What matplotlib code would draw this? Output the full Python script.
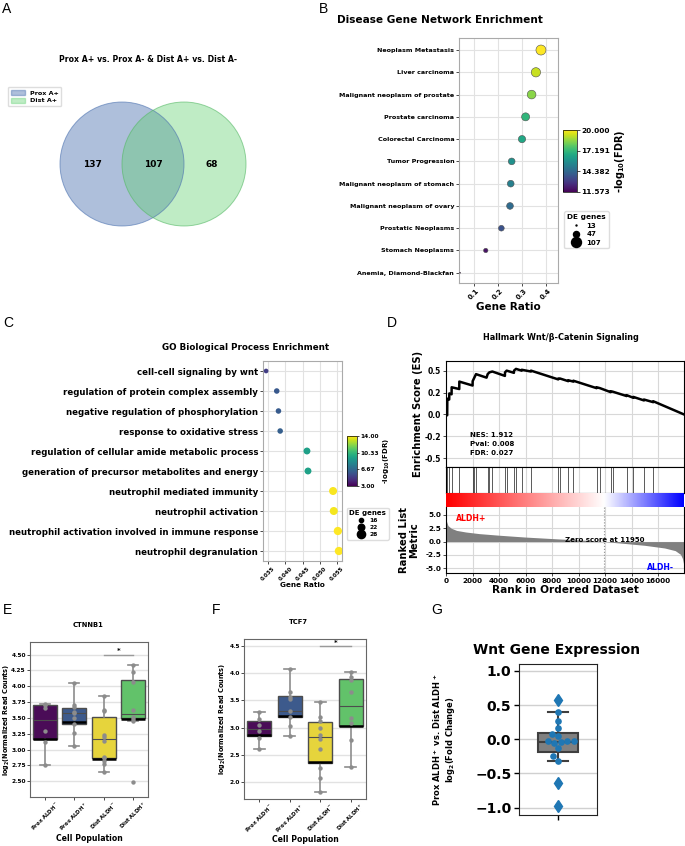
import numpy as np
import matplotlib
matplotlib.use('Agg')
import matplotlib.pyplot as plt
from matplotlib.patches import Circle, Patch
from matplotlib.lines import Line2D
from matplotlib.colors import TwoSlopeNorm
from matplotlib.ticker import FuncFormatter

plt.rcParams['font.family'] = ['DejaVu Sans']
plt.rcParams['font.weight'] = 'bold'
plt.rcParams['axes.labelweight'] = 'bold'
plt.rcParams['axes.titleweight'] = 'bold'
plt.rcParams['mathtext.default'] = 'bf'

# ---------------- data ----------------
venn_labels = ['Prox A+', 'Dist A+']
venn_counts = [137, 107, 68]  # only left, both, only right

disease_terms = ['Neoplasm Metastasis', 'Liver carcinoma', 'Malignant neoplasm of prostate',
                 'Prostate carcinoma', 'Colorectal Carcinoma', 'Tumor Progression',
                 'Malignant neoplasm of stomach', 'Malignant neoplasm of ovary',
                 'Prostatic Neoplasms', 'Stomach Neoplasms', 'Anemia, Diamond-Blackfan']
disease_ratio = [0.379, 0.358, 0.340, 0.315, 0.300, 0.257, 0.253, 0.250, 0.214, 0.149, 0.042]
disease_fdr = [20.0, 19.3, 18.5, 17.1, 16.6, 15.8, 15.2, 14.5, 13.7, 12.0, 11.573]
disease_genes = [107, 94, 84, 73, 62, 55, 55, 55, 43, 30, 13]
disease_size_legend = [13, 47, 107]
disease_cb_ticks = [11.573, 14.382, 17.191, 20.000]

go_terms = ['cell-cell signaling by wnt', 'regulation of protein complex assembly',
            'negative regulation of phosphorylation', 'response to oxidative stress',
            'regulation of cellular amide metabolic process',
            'generation of precursor metabolites and energy', 'neutrophil mediated immunity',
            'neutrophil activation', 'neutrophil activation involved in immune response',
            'neutrophil degranulation']
go_ratio = [0.0344, 0.0375, 0.0380, 0.0385, 0.0463, 0.0466, 0.0539, 0.0541, 0.0553, 0.0556]
go_fdr = [5.0, 6.0, 6.1, 6.3, 9.2, 9.3, 13.9, 13.8, 14.0, 14.0]
go_genes = [17, 19, 19, 19, 23, 23, 27, 27, 28, 28]
go_size_legend = [16, 22, 28]
go_cb_ticks = [3.00, 6.67, 10.33, 14.00]

gsea_n = 17962
gsea_zero = 11950
es_rank = [0, 90, 100, 240, 252, 420, 428, 1000, 1006, 2005, 2013, 2138, 2264, 3060, 3145, 3270,
           3497, 4445, 4453, 4579, 5125, 5132, 5283, 5705, 5711, 6410, 6415, 8470, 8478, 8604,
           9225, 9233, 9605, 9610, 11365, 11371, 11623, 12420, 12428, 12579, 13630, 13636,
           14135, 14139, 14940, 14944, 15640, 15648, 17962]
es_val = [0.0, -0.01, 0.18, 0.17, 0.24, 0.23, 0.31, 0.29, 0.375, 0.33, 0.38, 0.42, 0.46, 0.42,
          0.46, 0.48, 0.49, 0.44, 0.48, 0.50, 0.475, 0.50, 0.52, 0.50, 0.51, 0.49, 0.50, 0.40,
          0.41, 0.41, 0.38, 0.39, 0.375, 0.385, 0.30, 0.31, 0.30, 0.255, 0.265, 0.26, 0.21,
          0.22, 0.19, 0.20, 0.16, 0.17, 0.14, 0.15, 0.0]
hit_ranks = [100, 252, 428, 1006, 2013, 2138, 2264, 3145, 3270, 3497, 4453, 4579, 5132, 5283,
             5711, 6415, 8478, 8604, 9233, 9610, 11371, 11623, 12428, 12579, 13636, 14139,
             14944, 15648]
rk_rank = [0, 40, 150, 400, 800, 1500, 2500, 4000, 6000, 8500, 10500, 11950, 13500, 15000,
           16500, 17300, 17700, 17850, 17930, 17962]
rk_metric = [4.6, 3.8, 3.0, 2.5, 2.1, 1.8, 1.5, 1.2, 0.85, 0.5, 0.25, 0.0, -0.35, -0.7, -1.2,
             -1.7, -2.4, -3.2, -4.2, -5.0]
nes_text = 'NES: 1.912\nPval: 0.008\nFDR: 0.027'

groups = ['Prox ALDH$^-$', 'Prox ALDH$^+$', 'Dist ALDH$^-$', 'Dist ALDH$^+$']
group_colors = ['#4a0c57', '#3d5a8c', '#e6d43c', '#62c26a']

ctnnb1_q1 = [3.17, 3.41, 2.86, 3.50]
ctnnb1_med = [3.47, 3.58, 3.17, 3.56]
ctnnb1_q3 = [3.70, 3.66, 3.51, 4.10]
ctnnb1_lo = [2.75, 3.05, 2.65, 3.45]
ctnnb1_hi = [3.72, 4.05, 3.85, 4.34]
ctnnb1_mark = [3.17, 3.43, 2.85, 3.49]
ctnnb1_points = [[3.72, 3.71, 3.65, 3.30, 3.12, 2.75],
                 [4.05, 3.71, 3.67, 3.60, 3.57, 3.50, 3.41, 3.26, 3.05],
                 [3.85, 3.63, 3.61, 3.23, 3.20, 3.13, 2.89, 2.87, 2.82, 2.77, 2.65],
                 [4.34, 4.23, 4.06, 3.62, 3.51, 3.48, 3.45, 2.48]]

tcf7_q1 = [2.85, 3.19, 2.35, 3.02]
tcf7_med = [2.98, 3.30, 2.82, 3.40]
tcf7_q3 = [3.13, 3.59, 3.10, 3.89]
tcf7_lo = [2.60, 2.85, 1.81, 2.27]
tcf7_hi = [3.28, 4.08, 3.47, 4.02]
tcf7_mark = [2.86, 3.21, 2.36, 3.02]
tcf7_points = [[3.28, 3.15, 3.05, 2.93, 2.80, 2.60],
               [4.08, 3.66, 3.56, 3.52, 3.31, 3.20, 3.03, 2.85],
               [3.47, 3.20, 3.13, 2.99, 2.87, 2.79, 2.61, 2.25, 2.06, 1.81],
               [4.02, 3.93, 3.88, 3.65, 3.17, 3.08, 2.77, 2.27]]

wnt_fc = [0.57, 0.40, 0.27, 0.17, 0.07, 0.05, -0.03, -0.03, -0.05, -0.04, -0.03, -0.13,
          -0.25, -0.32, -0.64, -0.97]
wnt_q1, wnt_med, wnt_q3 = -0.18, -0.044, 0.097
wnt_lo, wnt_hi = -0.315, 0.40
wnt_fliers = [0.57, -0.64, -0.97]

# ---------------- figure ----------------
W, H = 685, 846
fig = plt.figure(figsize=(W / 100, H / 100), dpi=100)


def rect(l, t, r, b):
    return [l / W, 1 - b / H, (r - l) / W, (b - t) / H]


def panel_letter(x, y, s):
    fig.text(x / W, 1 - y / H, s, fontsize=10, fontweight='normal',
             family='Liberation Sans', ha='left', va='center')


for (x, y, s) in [(2, 9, 'A'), (319, 9, 'B'), (3, 323, 'C'), (387, 323, 'D'),
                  (3, 610, 'E'), (212, 610, 'F'), (431, 610, 'G')]:
    panel_letter(x, y, s)

GRID = '#e2e2e2'

# ---------------- A: Venn ----------------
axA = fig.add_axes(rect(30, 90, 276, 238))
axA.set_xlim(-1.984, 1.984)
axA.set_ylim(-1.194, 1.194)
axA.axis('off')
cL, cR = '#4c72b0', '#5fd070'
axA.add_patch(Circle((-0.5, 0), 1, fc=cL, alpha=0.45, ec='none'))
axA.add_patch(Circle((0.5, 0), 1, fc=cR, alpha=0.4, ec='none'))
axA.add_patch(Circle((-0.5, 0), 1, fill=False, ec=cL, alpha=0.6, lw=0.7))
axA.add_patch(Circle((0.5, 0), 1, fill=False, ec='#55b865', alpha=0.6, lw=0.7))
for xpos, cnt in zip([-0.97, 0.0, 0.95], venn_counts):
    axA.text(xpos, 0, str(cnt), ha='center', va='center', fontsize=6.5)
fig.text(148 / W, 1 - 60 / H, 'Prox A+ vs. Prox A- & Dist A+ vs. Dist A-', fontsize=5.6,
         ha='center', va='center')
fig.legend(handles=[Patch(fc=cL, ec=cL, alpha=0.45, label=venn_labels[0]),
                    Patch(fc=cR, ec=cR, alpha=0.4, label=venn_labels[1])],
           loc='upper left', bbox_to_anchor=(5 / W, 1 - 84 / H), fontsize=4.6,
           handlelength=2.2, handleheight=0.9, borderpad=0.4, labelspacing=0.3,
           framealpha=1, edgecolor='#dddddd', fancybox=True)

# ---------------- B: disease enrichment ----------------
def b_size(n):
    return (1 + (n - 13) * 99 / 94) * 0.5184

axB = fig.add_axes(rect(459, 38, 558, 283))
yB = np.arange(len(disease_terms))
scB = axB.scatter(disease_ratio, yB, s=[b_size(n) for n in disease_genes], c=disease_fdr,
                  cmap='viridis', vmin=11.573, vmax=20.0, edgecolors='#505050',
                  linewidths=0.4, zorder=3)
axB.set_ylim(10.46, -0.54)
axB.set_xlim(0.0375, 0.45)
axB.set_yticks(yB)
axB.set_yticklabels(disease_terms, fontsize=4.6)
axB.set_xticks([0.1, 0.2, 0.3, 0.4])
axB.set_xticklabels(['0.1', '0.2', '0.3', '0.4'], fontsize=5, rotation=45)
axB.tick_params(length=2, width=0.5, pad=1.5)
axB.grid(True, color=GRID, lw=0.8)
axB.set_axisbelow(True)
for sp in axB.spines.values():
    sp.set_color('#aaaaaa')
axB.set_xlabel('Gene Ratio', fontsize=7.5, labelpad=1)
fig.text(440 / W, 1 - 20 / H, 'Disease Gene Network Enrichment', fontsize=7.6,
         ha='center', va='center')
caxB = fig.add_axes(rect(563, 130, 577, 192))
cbB = fig.colorbar(scB, cax=caxB, ticks=disease_cb_ticks)
cbB.ax.set_yticklabels(['%.3f' % t for t in disease_cb_ticks], fontsize=5.3)
cbB.ax.tick_params(length=2, width=0.5, pad=1)
cbB.outline.set_linewidth(0.5)
cbB.set_label('-log$_{10}$(FDR)', fontsize=7, labelpad=2)
legB = fig.legend(handles=[Line2D([], [], marker='o', ls='', color='black',
                                  markersize=np.sqrt(b_size(n)), label=str(n))
                           for n in disease_size_legend],
                  loc='upper left', bbox_to_anchor=(561 / W, 1 - 208 / H), fontsize=5,
                  title='DE genes', title_fontproperties={'weight': 'bold', 'size': 5.3},
                  framealpha=1, edgecolor='#dddddd', borderpad=0.4, labelspacing=0.35,
                  handletextpad=0.9, handlelength=1.2)

# ---------------- C: GO enrichment ----------------
def c_size(n):
    return (18 + (n - 16) * 4.2) * 0.5184

axC = fig.add_axes(rect(263, 361, 342, 561))
yC = np.arange(len(go_terms))
scC = axC.scatter(go_ratio, yC, s=[c_size(n) for n in go_genes], c=go_fdr, cmap='viridis',
                  vmin=3.0, vmax=14.0, edgecolors='none', zorder=3)
axC.set_ylim(9.5, -0.5)
axC.set_xlim(0.0335, 0.0565)
axC.set_yticks(yC)
axC.set_yticklabels(go_terms, fontsize=6.2)
xtC = [0.035, 0.040, 0.045, 0.050, 0.055]
axC.set_xticks(xtC)
axC.set_xticklabels(['%.3f' % v for v in xtC], fontsize=4, rotation=45)
axC.tick_params(length=2, width=0.5, pad=1.5)
axC.grid(True, color=GRID, lw=0.8)
axC.set_axisbelow(True)
for sp in axC.spines.values():
    sp.set_color('#aaaaaa')
axC.set_xlabel('Gene Ratio', fontsize=5.2, labelpad=0.5)
fig.text(246 / W, 1 - 348 / H, 'GO Biological Process Enrichment', fontsize=6.3,
         ha='center', va='center')
caxC = fig.add_axes(rect(347, 436, 357, 486))
cbC = fig.colorbar(scC, cax=caxC, ticks=go_cb_ticks)
cbC.ax.set_yticklabels(['%.2f' % t for t in go_cb_ticks], fontsize=4.2)
cbC.ax.tick_params(length=1.5, width=0.5, pad=1)
cbC.outline.set_linewidth(0.5)
cbC.set_label('-log$_{10}$(FDR)', fontsize=5, labelpad=2)
fig.legend(handles=[Line2D([], [], marker='o', ls='', color='black',
                           markersize=np.sqrt(c_size(n)), label=str(n))
                    for n in go_size_legend],
           loc='upper left', bbox_to_anchor=(344 / W, 1 - 505 / H), fontsize=4.3,
           title='DE genes', title_fontproperties={'weight': 'bold', 'size': 5},
           framealpha=1, edgecolor='#dddddd', borderpad=0.4, labelspacing=0.3,
           handletextpad=0.9, handlelength=1.0)

# ---------------- D: GSEA ----------------
fmt_hyph = FuncFormatter(lambda v, p: '%.1f' % v)
axES = fig.add_axes(rect(446, 361, 684, 467))
axES.plot(es_rank, es_val, color='black', lw=1.8, zorder=3)
axES.set_xlim(0, gsea_n)
axES.set_ylim(-0.6, 0.61)
axES.set_yticks([-0.5, -0.25, 0, 0.25, 0.5])
axES.yaxis.set_major_formatter(fmt_hyph)
axES.set_xticks(np.arange(0, 17000, 2000))
axES.tick_params(axis='x', labelbottom=False, length=0)
axES.tick_params(axis='y', labelsize=5.5, length=2, width=0.5, pad=1.5)
axES.grid(True, color='#d8d8d8', lw=0.8)
axES.set_ylabel('Enrichment Score (ES)', fontsize=7.2)
axES.yaxis.set_label_coords(-0.095, 0.5)
axES.text(1811, -0.337, nes_text, fontsize=5, ha='left', va='center', linespacing=1.55)
fig.text(561 / W, 1 - 337 / H, 'Hallmark Wnt/\u03b2-Catenin Signaling', fontsize=5.9,
         ha='center', va='center')

axHit = fig.add_axes(rect(446, 467, 684, 493))
axHit.vlines(hit_ranks, 0, 1, color='black', lw=0.6, alpha=0.75)
axHit.set_xlim(0, gsea_n)
axHit.set_ylim(0, 1)
axHit.set_xticks(np.arange(0, 17000, 2000))
axHit.set_yticks([])
axHit.tick_params(axis='x', labelbottom=False, length=0)
axHit.grid(True, axis='x', color='#d8d8d8', lw=0.8)
axHit.set_axisbelow(True)

axCb = fig.add_axes(rect(446, 493, 684, 507))
axCb.imshow(np.linspace(0, gsea_n, 700)[None, :], aspect='auto', cmap='bwr_r',
            norm=TwoSlopeNorm(vmin=0, vcenter=gsea_zero, vmax=gsea_n),
            extent=(0, gsea_n, 0, 1), interpolation='bilinear')
axCb.set_xlim(0, gsea_n)
axCb.axis('off')

axRk = fig.add_axes(rect(446, 507, 684, 573))
axRk.fill_between(rk_rank, 0, rk_metric, color='#808080', lw=0, zorder=2)
axRk.axvline(gsea_zero, ls=':', color='#909090', lw=0.8, zorder=1)
axRk.text(gsea_zero, 0.35, 'Zero score at %d' % gsea_zero, fontsize=5, ha='center',
          va='center', zorder=3)
axRk.text(1900, 4.3, 'ALDH+', color='red', fontsize=5.6, ha='center', va='center')
axRk.text(16150, -4.8, 'ALDH-', color='blue', fontsize=5.6, ha='center', va='center')
axRk.set_xlim(0, gsea_n)
axRk.set_ylim(-5.9, 6.5)
axRk.set_yticks([-5, -2.5, 0, 2.5, 5])
axRk.yaxis.set_major_formatter(fmt_hyph)
axRk.set_xticks(np.arange(0, 17000, 2000))
axRk.tick_params(axis='both', labelsize=5.2, length=2, width=0.5, pad=1.5)
axRk.grid(True, color='#d8d8d8', lw=0.8)
axRk.set_axisbelow(True)
axRk.spines['top'].set_visible(False)
axRk.set_xlabel('Rank in Ordered Dataset', fontsize=7.6, labelpad=1)
axRk.set_ylabel('Ranked List\nMetric', fontsize=7.2, linespacing=1.0)
axRk.yaxis.set_label_coords(-0.115, 0.5)


# ---------------- E, F: boxplots ----------------
def box_panel(rc, title, tx, q1, med, q3, lo, hi, mark, pts, ylim, yt, yfmt, ylabx, xlaby):
    ax = fig.add_axes(rect(*rc))
    stats = [dict(q1=a, med=m, q3=b, whislo=l, whishi=h, fliers=[], label=g)
             for a, m, b, l, h, g in zip(q1, med, q3, lo, hi, groups)]
    pos = np.arange(len(groups))
    bp = ax.bxp(stats, positions=pos, widths=0.8, patch_artist=True, showfliers=False,
                boxprops=dict(edgecolor='#4d4d4d', lw=1.0),
                whiskerprops=dict(color='#8c8c8c', lw=1.2),
                capprops=dict(color='#8c8c8c', lw=1.2),
                medianprops=dict(color='#4d4d4d', lw=0.8), capwidths=0.35)
    for patch, c in zip(bp['boxes'], group_colors):
        patch.set_facecolor(c)
    ax.hlines(mark, pos - 0.4, pos + 0.4, color='black', lw=1.8, zorder=4)
    for i, p in enumerate(pts):
        ax.scatter([pos[i]] * len(p), p, s=10, color='#8c8c8c', zorder=5, lw=0)
    ax.plot([2, 3], [4.5, 4.5], color='#9a9a9a', lw=1.0, zorder=3)
    ax.text(2.5, 4.51, '*', ha='center', va='bottom', fontsize=5)
    ax.set_xlim(-0.5, 3.5)
    ax.set_ylim(*ylim)
    ax.set_yticks(yt)
    ax.yaxis.set_major_formatter(FuncFormatter(lambda v, p: yfmt % v))
    ax.set_xticks(pos)
    ax.set_xticklabels(groups, rotation=45)
    ax.tick_params(axis='both', labelsize=4.2, length=2, width=0.5, pad=1)
    ax.tick_params(axis='x', labelsize=3.8, pad=0.5)
    ax.grid(True, axis='y', color=GRID, lw=1.0)
    ax.set_axisbelow(True)
    for sp in ax.spines.values():
        sp.set_color('#666666')
    ax.set_ylabel('log$_2$(Normalized Read Counts)', fontsize=4.7)
    ax.yaxis.set_label_coords(ylabx, 0.5)
    ax.set_xlabel('Cell Population', fontsize=5.6)
    ax.xaxis.set_label_coords(0.5, xlaby)
    fig.text(tx / W, 1 - (rc[1] - 17) / H, title, fontsize=4.9, ha='center', va='center')
    return ax


box_panel((30, 642, 148, 797), 'CTNNB1', 88, ctnnb1_q1, ctnnb1_med, ctnnb1_q3, ctnnb1_lo,
          ctnnb1_hi, ctnnb1_mark, ctnnb1_points, (2.25, 4.70), np.arange(2.5, 4.51, 0.25),
          '%.2f', -0.15, -0.24)
box_panel((244, 639, 366, 799), 'TCF7', 298, tcf7_q1, tcf7_med, tcf7_q3, tcf7_lo, tcf7_hi,
          tcf7_mark, tcf7_points, (1.68, 4.636), np.arange(2.0, 4.51, 0.5), '%.1f', -0.13,
          -0.225)

# ---------------- G: Wnt gene expression ----------------
rcG = (519, 664, 597, 815)
axG = fig.add_axes(rect(*rcG))
ylimG = (-1.107, 1.10)
axG.set_xlim(-0.5, 0.5)
axG.set_ylim(*ylimG)
axG.bxp([dict(q1=wnt_q1, med=wnt_med, q3=wnt_q3, whislo=wnt_lo, whishi=wnt_hi,
              fliers=wnt_fliers)], positions=[0], widths=0.51, patch_artist=True,
        boxprops=dict(facecolor='#808080', edgecolor='#3f3f3f', lw=1.5),
        whiskerprops=dict(color='#3f3f3f', lw=1.5), capprops=dict(color='#3f3f3f', lw=1.5),
        medianprops=dict(color='#3f3f3f', lw=1.5), capwidths=0.26,
        flierprops=dict(marker='d', markerfacecolor='#1f77b4', markeredgecolor='#1f77b4',
                        markersize=6))


def swarm_offsets(vals, rc, xlim, ylim, d):
    xs = (rc[2] - rc[0]) / (xlim[1] - xlim[0])
    ys = (rc[3] - rc[1]) / (ylim[1] - ylim[0])
    order = np.argsort(vals, kind='stable')
    placed = []
    offs = np.zeros(len(vals))
    for idx in order:
        y = vals[idx] * ys
        cands = [0.0]
        for (px, py) in placed:
            dy = abs(py - y)
            if dy < d:
                dx = np.sqrt(d * d - dy * dy)
                cands += [px - dx, px + dx]
        cands = sorted(cands, key=lambda c: (abs(c), c))
        chosen = cands[-1]
        for c in cands:
            if all((c - px) ** 2 + (y - py) ** 2 >= d * d - 1e-6 for px, py in placed):
                chosen = c
                break
        placed.append((chosen, y))
        offs[idx] = chosen / xs
    return offs


offG = swarm_offsets(np.array(wnt_fc), rcG, (-0.5, 0.5), ylimG, 6.6)
axG.scatter(offG, wnt_fc, s=23, color='#1f77b4', zorder=5, lw=0)
axG.set_yticks([-1.0, -0.5, 0.0, 0.5, 1.0])
axG.yaxis.set_major_formatter(FuncFormatter(lambda v, p: ('%.1f' % v).replace('-', '\u2212')))
axG.set_xticks([0])
axG.set_xticklabels([''])
axG.tick_params(axis='y', labelsize=10, length=3.5, width=1, pad=2)
axG.tick_params(axis='x', length=3.5, width=1)
axG.grid(True, axis='y', color='#d0d0d0', lw=1.0)
axG.set_axisbelow(True)
for sp in axG.spines.values():
    sp.set_color('#222222')
axG.set_ylabel('Prox ALDH$^+$ vs. Dist ALDH$^+$\nlog$_2$(Fold Change)', fontsize=6,
               linespacing=1.1)
axG.yaxis.set_label_coords(-0.8, 0.5)
fig.text(557 / W, 1 - 650 / H, 'Wnt Gene Expression', fontsize=10, ha='center', va='center')

fig.savefig('out.png', dpi=100)
